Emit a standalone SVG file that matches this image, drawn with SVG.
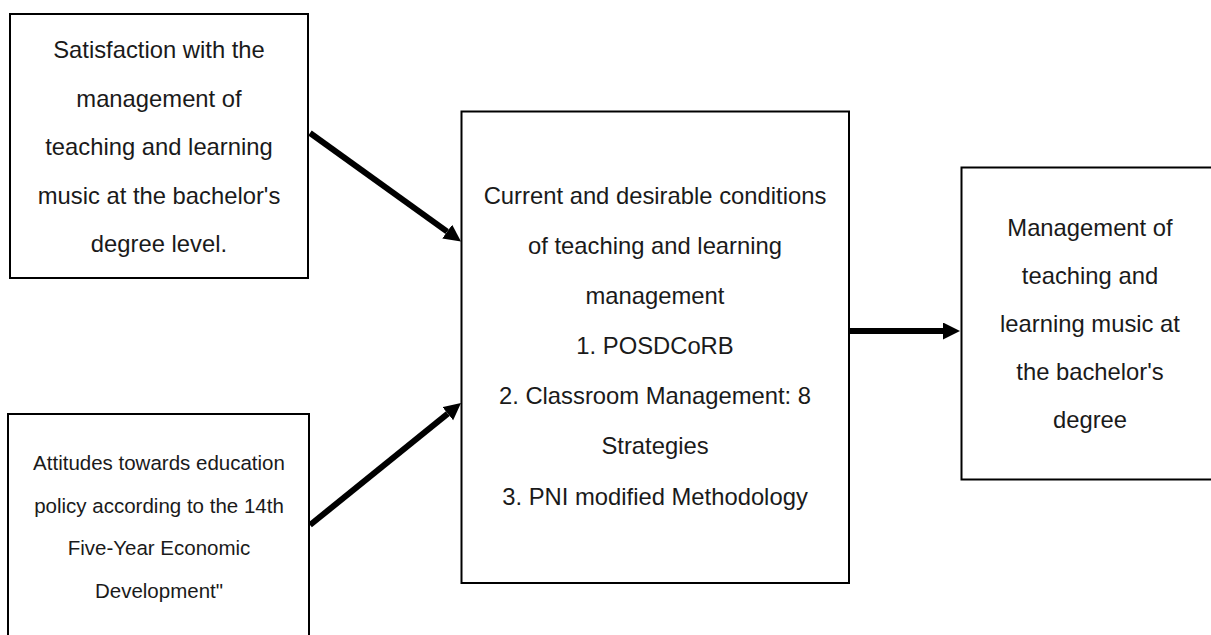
<svg xmlns="http://www.w3.org/2000/svg" width="1211" height="635" viewBox="0 0 1211 635">
  <style>
    .box { fill: #ffffff; stroke: #000000; stroke-width: 2; }
    .t { font-family: "Liberation Sans", Arial, sans-serif; font-size: 23.8px; fill: #1a1a1a; text-anchor: middle; }
    .ts { font-family: "Liberation Sans", Arial, sans-serif; font-size: 20.5px; fill: #1a1a1a; text-anchor: middle; }
    .conn { stroke: #000000; stroke-width: 6; fill: none; stroke-linecap: butt; }
  </style>
  <defs>
    <marker id="head" markerUnits="userSpaceOnUse" markerWidth="20" markerHeight="18" refX="0" refY="8.5" orient="auto">
      <path d="M0,0 L17,8.5 L0,17 Z" fill="#000000"/>
    </marker>
  </defs>
  <rect width="1211" height="635" fill="#ffffff"/>

  <g id="satisfaction">
    <rect class="box" x="10" y="14" width="298" height="264"/>
    <text class="t" x="159" y="58">Satisfaction with the</text>
    <text class="t" x="159" y="106.5">management of</text>
    <text class="t" x="159" y="155">teaching and learning</text>
    <text class="t" x="159" y="203.5">music at the bachelor's</text>
    <text class="t" x="159" y="252">degree level.</text>
  </g>

  <g id="attitudes">
    <rect class="box" x="8" y="414" width="301" height="260"/>
    <text class="ts" x="159" y="470">Attitudes towards education</text>
    <text class="ts" x="159" y="512.5">policy according to the 14th</text>
    <text class="ts" x="159" y="555">Five-Year Economic</text>
    <text class="ts" x="159" y="597.5">Development"</text>
  </g>

  <g id="conditions">
    <rect class="box" x="461.5" y="111.5" width="387.5" height="471.5"/>
    <text class="t" x="655" y="204">Current and desirable conditions</text>
    <text class="t" x="655" y="254">of teaching and learning</text>
    <text class="t" x="655" y="304">management</text>
    <text class="t" x="655" y="354">1. POSDCoRB</text>
    <text class="t" x="655" y="404">2. Classroom Management: 8</text>
    <text class="t" x="655" y="454">Strategies</text>
    <text class="t" x="655" y="505">3. PNI modified Methodology</text>
  </g>

  <g id="management">
    <rect class="box" x="961.5" y="167.5" width="300" height="312"/>
    <text class="t" x="1090" y="236">Management of</text>
    <text class="t" x="1090" y="284">teaching and</text>
    <text class="t" x="1090" y="332">learning music at</text>
    <text class="t" x="1090" y="380">the bachelor's</text>
    <text class="t" x="1090" y="428">degree</text>
  </g>

  <g id="connectors">
    <line class="conn" x1="310" y1="133" x2="447.2" y2="231.6" marker-end="url(#head)"/>
    <line class="conn" x1="310" y1="525" x2="447.8" y2="413.7" marker-end="url(#head)"/>
    <line class="conn" x1="849" y1="331" x2="943" y2="331" marker-end="url(#head)"/>
  </g>
</svg>
